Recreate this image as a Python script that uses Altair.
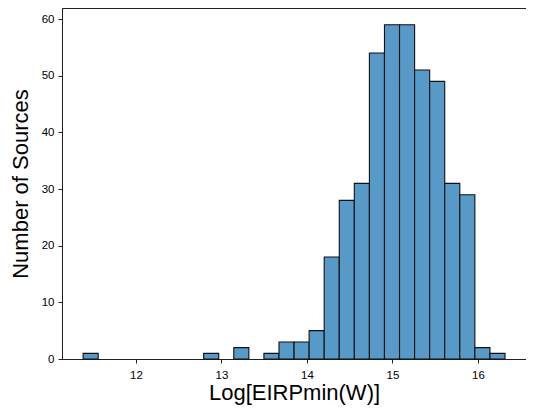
import altair as alt
import pandas as pd

# histogram: 28 bins starting at 11.381 with width 0.1763
bin_start = 11.381
bin_width = 0.1763
counts = [1, 0, 0, 0, 0, 0, 0, 0, 1, 0, 2, 0, 1, 3, 3, 5, 18, 28, 31, 54,
          59, 59, 51, 49, 31, 29, 2, 1]
x_ticks = [12, 13, 14, 15, 16]
y_ticks = [0, 10, 20, 30, 40, 50, 60]

lo = [bin_start + i * bin_width for i in range(len(counts))]
hi = [v + bin_width for v in lo]
df = pd.DataFrame({"lo": lo, "hi": hi, "count": counts, "base": [0] * len(counts)})
df = df[df["count"] > 0]

FONT = "Liberation Sans"

chart = alt.Chart(df).mark_bar(
    fill="#5799c7", stroke="#111111", strokeWidth=1.1, opacity=1
).encode(
    x=alt.X("lo:Q", scale=alt.Scale(domain=[11.134, 16.563], nice=False, zero=False),
            axis=alt.Axis(values=x_ticks, title="Log[EIRPmin(W)]", format="d",
                          grid=False, tickSize=4, labelPadding=6,
                          labelFontSize=11.5, titleFontSize=22, titlePadding=2,
                          titleFontWeight="normal")),
    x2="hi:Q",
    y=alt.Y("count:Q", scale=alt.Scale(domain=[0, 61.95], nice=False),
            axis=alt.Axis(values=y_ticks, title="Number of Sources",
                          grid=False, tickSize=4, labelPadding=4,
                          labelFontSize=11.5, titleFontSize=22, titlePadding=9,
                          titleFontWeight="normal")),
    y2="base:Q",
).properties(
    width=464, height=351,
    padding={"left": 54, "top": 0, "right": 0, "bottom": 50},
    autosize=alt.AutoSizeParams(type="none"),
).configure_view(
    stroke="#222222", strokeWidth=1
).configure_axis(
    domainColor="#222222", tickColor="#222222", labelColor="#000000",
    titleColor="#000000", labelFont=FONT, titleFont=FONT
)

chart.save("out.html", embed_options={"renderer": "svg", "actions": False})
